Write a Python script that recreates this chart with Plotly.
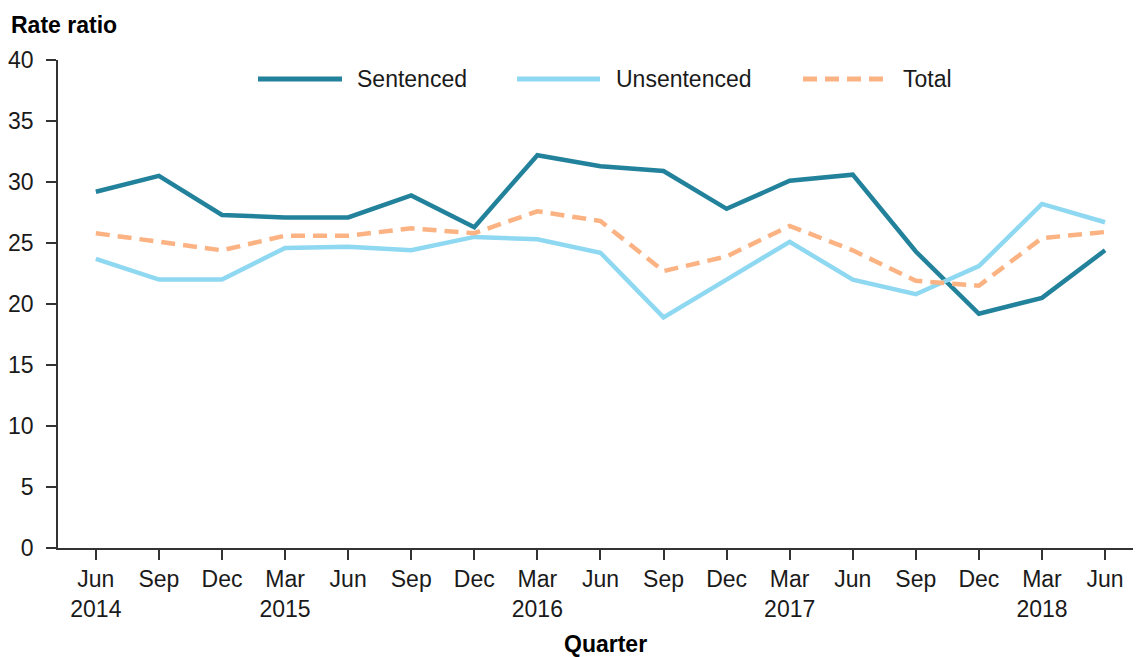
import plotly.graph_objects as go

# quarters (x categories) and tick labels
quarters = ["Jun 2014", "Sep 2014", "Dec 2014", "Mar 2015", "Jun 2015", "Sep 2015",
            "Dec 2015", "Mar 2016", "Jun 2016", "Sep 2016", "Dec 2016", "Mar 2017",
            "Jun 2017", "Sep 2017", "Dec 2017", "Mar 2018", "Jun 2018"]
tick_labels = ["Jun<br>2014", "Sep", "Dec", "Mar<br>2015", "Jun", "Sep", "Dec",
               "Mar<br>2016", "Jun", "Sep", "Dec", "Mar<br>2017", "Jun", "Sep",
               "Dec", "Mar<br>2018", "Jun"]

# rate ratios
sentenced = [29.2, 30.5, 27.3, 27.1, 27.1, 28.9, 26.3, 32.2, 31.3, 30.9, 27.8,
             30.1, 30.6, 24.3, 19.2, 20.5, 24.4]
unsentenced = [23.7, 22.0, 22.0, 24.6, 24.7, 24.4, 25.5, 25.3, 24.2, 18.9, 22.0,
               25.1, 22.0, 20.8, 23.1, 28.2, 26.7]
total = [25.8, 25.1, 24.4, 25.6, 25.6, 26.2, 25.8, 27.6, 26.8, 22.7, 23.9,
         26.4, 24.4, 21.9, 21.5, 25.4, 25.9]

series_names = ["Sentenced", "Unsentenced", "Total"]
series_values = [sentenced, unsentenced, total]
colours = ["#23829b", "#8fd8f1", "#fbb383"]
dashes = ["solid", "solid", "14px,8px"]

FONT = "Liberation Sans, Arial, sans-serif"
FS = 23

fig = go.Figure()
for name, vals, col, dash in zip(series_names, series_values, colours, dashes):
    fig.add_trace(go.Scatter(x=quarters, y=vals, name=name, mode="lines",
                             line=dict(color=col, width=4.5, dash=dash),
                             showlegend=False))

# page has an 8px body margin, so the figure is 8px smaller and margins shifted
plot_left, plot_w, plot_bottom, plot_h = 58, 1083, 548, 488


def px(x):
    return (x - plot_left) / plot_w


def py(y):
    return (plot_bottom - y) / plot_h


# custom legend with long line samples
legend_x = [(258, 342, 355), (517, 600, 614), (803, 887, 901)]
shapes = []
annotations = []
for (x0, x1, xt), name, col, dash in zip(legend_x, series_names, colours, dashes):
    shapes.append(dict(type="line", xref="paper", yref="paper",
                       x0=px(x0), x1=px(x1), y0=py(79), y1=py(79),
                       line=dict(color=col, width=5, dash=dash)))
    annotations.append(dict(text=name, xref="paper", yref="paper",
                            x=px(xt), y=py(79),
                            xanchor="left", yanchor="middle", showarrow=False,
                            font=dict(size=FS, color="#1a1a1a")))

annotations.append(dict(text="<b>Rate ratio</b>", xref="paper", yref="paper",
                        x=px(9), y=py(25),
                        xanchor="left", yanchor="middle", showarrow=False,
                        font=dict(size=FS, color="#000")))
annotations.append(dict(text="<b>Quarter</b>", xref="paper", yref="paper",
                        x=px(605), y=py(644),
                        xanchor="center", yanchor="middle", showarrow=False,
                        font=dict(size=FS, color="#000")))

fig.update_layout(
    width=1133, height=649,
    margin=dict(l=50, r=0, t=52, b=109),
    plot_bgcolor="white", paper_bgcolor="white",
    font=dict(family=FONT, size=FS, color="#1a1a1a"),
    shapes=shapes, annotations=annotations,
    xaxis=dict(type="category", range=[-0.6, 16.57], tickmode="array",
               tickvals=quarters, ticktext=tick_labels, showgrid=False,
               showline=True, linecolor="#333", linewidth=1.5,
               ticks="outside", ticklen=10, tickcolor="#333", tickwidth=1.5,
               ticklabelstandoff=0, zeroline=False),
    yaxis=dict(range=[0, 40], dtick=5, showgrid=False, zeroline=False,
               showline=True, linecolor="#333", linewidth=1.5,
               ticks="outside", ticklen=10, tickcolor="#333", tickwidth=1.5,
               ticklabelstandoff=8),
)

fig.write_html("out.html")
